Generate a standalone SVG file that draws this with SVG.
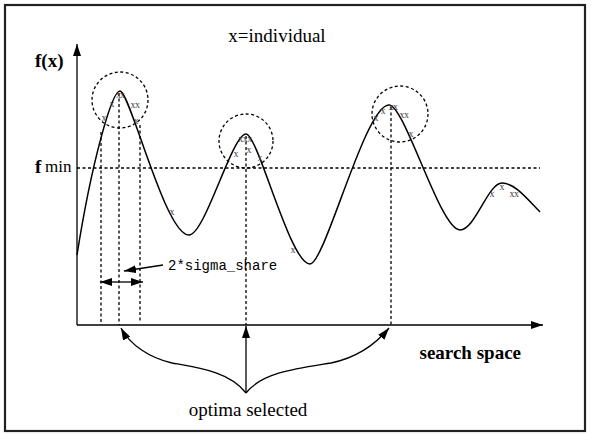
<svg xmlns="http://www.w3.org/2000/svg" width="591" height="435" viewBox="0 0 591 435">
<defs>
<style>
.ln{fill:none;stroke:#000;stroke-width:1.3}
.ds{fill:none;stroke:#000;stroke-width:1.3;stroke-dasharray:3 2.5}
.cv{fill:none;stroke:#000;stroke-width:1.5}
.t{font-family:"Liberation Serif","Times New Roman",Times,serif;fill:#000}
.m{font-family:"Liberation Serif","Times New Roman",Times,serif;font-size:10px;fill:#444;text-anchor:middle}
.mono{font-family:"Liberation Mono","Courier New",monospace;font-size:14px;fill:#000}
</style>
<marker id="ah" viewBox="0 0 12 8" refX="12" refY="4" markerWidth="12" markerHeight="8" markerUnits="userSpaceOnUse" orient="auto">
<path d="M0,0 L12,4 L0,8 Z" fill="#000"/>
</marker>
</defs>
<rect x="5" y="5" width="580" height="426" fill="#fff" stroke="#222" stroke-width="2.2"/>

<g id="axes">
<line class="ln" x1="77" y1="325" x2="77" y2="44" marker-end="url(#ah)"/>
<line class="ln" x1="77" y1="325" x2="543" y2="325" marker-end="url(#ah)"/>
</g>

<g id="fmin-line">
<line class="ds" x1="77" y1="168" x2="540" y2="168"/>
</g>

<g id="curve">
<path class="cv" d="M77,255 C92,160 112,91 120,91 C130,91 165,235 189,235 C205,235 232,134 246,134 C258,134 290,264 310,264 C325,264 365,105 389,105 C405,105 440,230 460,230 C475,230 488,183 502,183 C515,183 528,200 540,212"/>
</g>

<g id="verticals">
<line class="ds" x1="101" y1="132" x2="101" y2="323"/>
<line class="ds" x1="119" y1="93" x2="119" y2="325"/>
<line class="ds" x1="140" y1="125" x2="140" y2="323"/>
<line class="ds" x1="246" y1="136" x2="246" y2="325"/>
<line class="ds" x1="391" y1="107" x2="391" y2="325"/>
</g>

<g id="circles">
<circle class="ds" cx="120" cy="100" r="28"/>
<circle class="ds" cx="246" cy="141" r="27"/>
<circle class="ds" cx="400" cy="114" r="28"/>
</g>

<g id="individuals">
<text class="m" x="120" y="98" letter-spacing="-1">xx</text>
<text class="m" x="112" y="107">x</text>
<text class="m" x="135" y="108" letter-spacing="-0.5">xx</text>
<text class="m" x="104" y="121">x</text>
<text class="m" x="136" y="124">x</text>
<text class="m" x="245" y="142" letter-spacing="-0.5">xxx</text>
<text class="m" x="249" y="153">x</text>
<text class="m" x="236" y="157">x</text>
<text class="m" x="260" y="161">x</text>
<text class="m" x="376" y="121">x</text>
<text class="m" x="383" y="114">x</text>
<text class="m" x="393" y="110" letter-spacing="-0.5">xx</text>
<text class="m" x="404" y="118" letter-spacing="-0.5">xx</text>
<text class="m" x="411" y="137">x</text>
<text class="m" x="492" y="197">x</text>
<text class="m" x="502" y="190">x</text>
<text class="m" x="514" y="197" letter-spacing="-0.5">xx</text>
<text class="m" x="172" y="215">x</text>
<text class="m" x="293" y="253">x</text>
</g>

<g id="sigma">
<line class="ln" x1="120" y1="282" x2="100" y2="282" marker-end="url(#ah)"/>
<line class="ln" x1="120" y1="282" x2="143" y2="282" marker-end="url(#ah)"/>
<line class="ln" x1="163" y1="265" x2="124" y2="271" marker-end="url(#ah)"/>
<text class="mono" x="168" y="270">2*sigma_share</text>
</g>

<g id="connectors">
<path class="ln" d="M246,393 C230,372 200,368 172,363 C150,358 130,345 121,328" marker-end="url(#ah)"/>
<line class="ln" x1="246" y1="393" x2="246" y2="326" marker-end="url(#ah)"/>
<path class="ln" d="M246,393 C262,372 300,368 331,363 C355,358 375,345 389,328" marker-end="url(#ah)"/>
</g>

<g id="labels">
<text class="t" x="277" y="42" font-size="19" text-anchor="middle">x=individual</text>
<text class="t" x="35" y="67" font-size="19" font-weight="bold">f(x)</text>
<text class="t" x="35" y="173" font-size="19" font-weight="bold">f</text>
<text class="t" x="45" y="172" font-size="17">min</text>
<text class="t" x="521" y="359" font-size="19" font-weight="bold" text-anchor="end">search space</text>
<text class="t" x="248" y="416" font-size="19" text-anchor="middle">optima selected</text>
</g>
</svg>
